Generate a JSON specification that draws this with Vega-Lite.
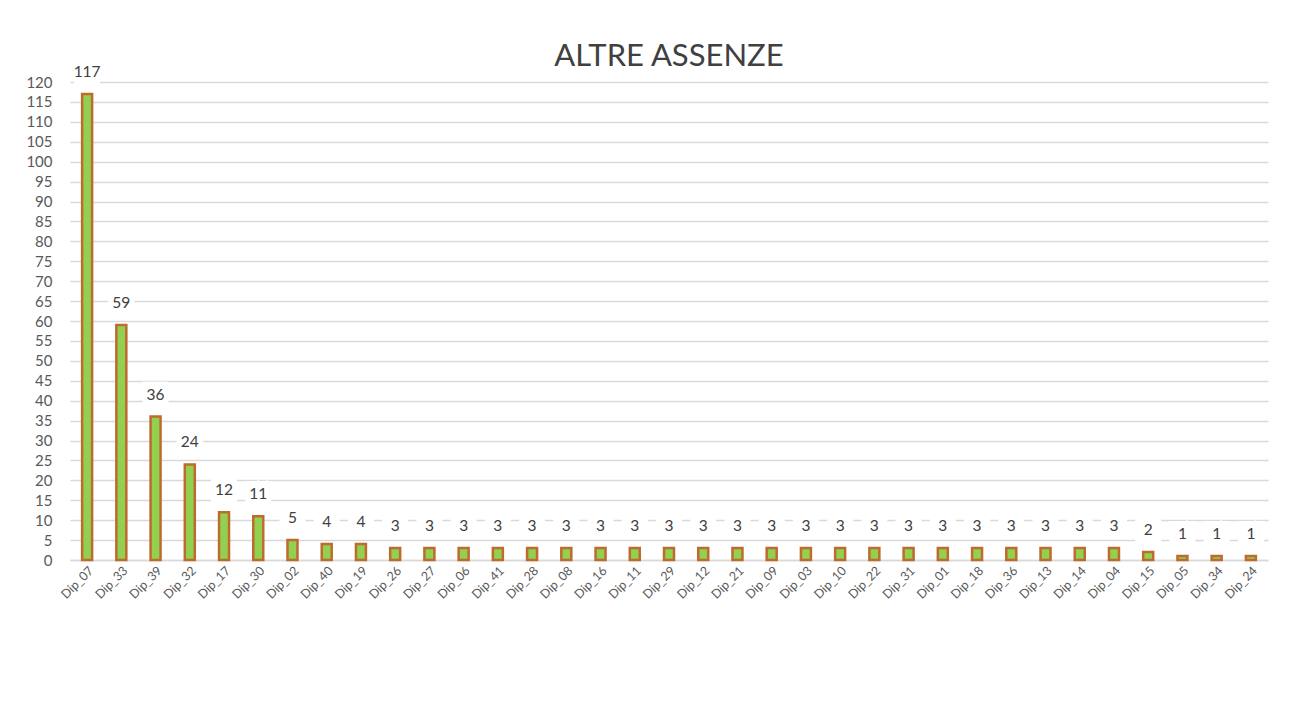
{
  "$schema": "https://vega.github.io/schema/vega-lite/v6.json",
  "autosize": {"type": "none"},
  "width": 1198,
  "height": 478,
  "padding": {"left": 70, "top": 82, "right": 24, "bottom": 142},
  "background": "white",
  "title": {"text": "ALTRE ASSENZE", "fontSize": 31, "font": "Lato", "fontWeight": "normal", "color": "#404040", "anchor": "middle", "offset": -14},
  "config": {"view": {"stroke": null}, "font": "Lato"},
  "data": {"values": [
    {"dip": "Dip_07", "v": 117}, {"dip": "Dip_33", "v": 59}, {"dip": "Dip_39", "v": 36}, {"dip": "Dip_32", "v": 24},
    {"dip": "Dip_17", "v": 12}, {"dip": "Dip_30", "v": 11}, {"dip": "Dip_02", "v": 5}, {"dip": "Dip_40", "v": 4},
    {"dip": "Dip_19", "v": 4}, {"dip": "Dip_26", "v": 3}, {"dip": "Dip_27", "v": 3}, {"dip": "Dip_06", "v": 3},
    {"dip": "Dip_41", "v": 3}, {"dip": "Dip_28", "v": 3}, {"dip": "Dip_08", "v": 3}, {"dip": "Dip_16", "v": 3},
    {"dip": "Dip_11", "v": 3}, {"dip": "Dip_29", "v": 3}, {"dip": "Dip_12", "v": 3}, {"dip": "Dip_21", "v": 3},
    {"dip": "Dip_09", "v": 3}, {"dip": "Dip_03", "v": 3}, {"dip": "Dip_10", "v": 3}, {"dip": "Dip_22", "v": 3},
    {"dip": "Dip_31", "v": 3}, {"dip": "Dip_01", "v": 3}, {"dip": "Dip_18", "v": 3}, {"dip": "Dip_36", "v": 3},
    {"dip": "Dip_13", "v": 3}, {"dip": "Dip_14", "v": 3}, {"dip": "Dip_04", "v": 3}, {"dip": "Dip_15", "v": 2},
    {"dip": "Dip_05", "v": 1}, {"dip": "Dip_34", "v": 1}, {"dip": "Dip_24", "v": 1}
  ]},
  "encoding": {
    "x": {"field": "dip", "type": "nominal", "sort": null,
      "scale": {"paddingInner": 0, "paddingOuter": 0},
      "axis": {"title": null, "labelAngle": -45, "labelFontSize": 12.5, "labelColor": "#595959", "labelPadding": 4,
        "ticks": false, "domain": true, "domainColor": "#D9D9D9", "domainWidth": 1.5, "grid": false}},
    "y": {"field": "v", "type": "quantitative",
      "scale": {"domain": [0, 120], "nice": false},
      "axis": {"title": null, "values": [0,5,10,15,20,25,30,35,40,45,50,55,60,65,70,75,80,85,90,95,100,105,110,115,120],
        "labelFontSize": 15, "labelColor": "#595959", "labelPadding": 18, "ticks": false, "domain": false,
        "gridColor": "#D9D9D9", "gridWidth": 1.3}}
  },
  "layer": [
    {"mark": {"type": "bar", "width": 10, "fill": "#92D050", "stroke": "#BF6B2F", "strokeWidth": 2.5}},
    {"mark": {"type": "point", "shape": "M-1,-1L1,-1L1,1L-1,1Z", "size": 676, "filled": true, "fill": "white", "opacity": 1, "strokeWidth": 0, "yOffset": -22}},
    {"mark": {"type": "text", "dy": -22, "fontSize": 15.5, "color": "white", "stroke": "white", "strokeWidth": 9, "baseline": "middle"},
      "encoding": {"text": {"field": "v", "type": "quantitative"}}},
    {"mark": {"type": "text", "dy": -22, "fontSize": 15.5, "color": "#404040", "baseline": "middle"},
      "encoding": {"text": {"field": "v", "type": "quantitative"}}}
  ]
}
